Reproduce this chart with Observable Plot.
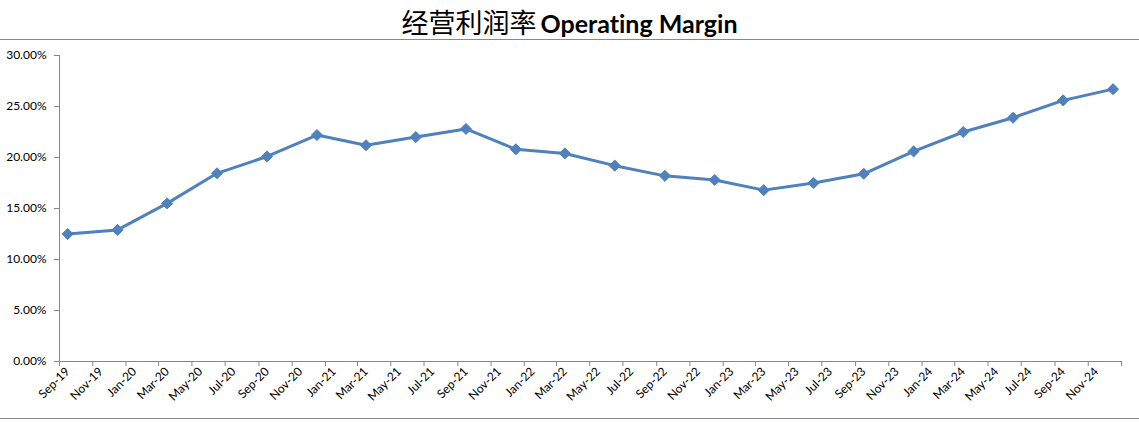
<!DOCTYPE html>
<html>
<head>
<meta charset="utf-8">
<script src="https://cdn.jsdelivr.net/npm/d3@7"></script>
<script src="https://cdn.jsdelivr.net/npm/@observablehq/plot@0.6"></script>
<style>
  html, body { margin: 0; padding: 0; background: #fff; }
  #wrap { width: 1139px; height: 429px; position: relative; overflow: hidden; }
  #title { height: 39px; border-bottom: 1px solid #888; text-align: center; line-height: 44px; white-space: nowrap; color: #000; font-variant-ligatures: none; }
  #title .zh { font-family: "Noto Sans CJK SC", sans-serif; font-size: 27px; font-weight: 400; }
  #title .en { font-family: "Lato", sans-serif; font-size: 25px; font-weight: 700; }
  #bottom { border-top: 1px solid #888; height: 10px; }
  svg { display: block; font-variant-ligatures: none; }
</style>
</head>
<body>
<div id="wrap">
  <div id="title"><span class="zh">经营利润率</span> <span class="en">Operating Margin</span></div>
  <div id="chart"></div>
  <div id="bottom"></div>
</div>
<script>
// Quarter-end months of each observation
const periods = ["2019-09","2019-12","2020-03","2020-06","2020-09","2020-12","2021-03","2021-06",
  "2021-09","2021-12","2022-03","2022-06","2022-09","2022-12","2023-03","2023-06",
  "2023-09","2023-12","2024-03","2024-06","2024-09","2024-12"];
// Operating margin, percent
const margins = [12.5, 12.9, 15.5, 18.45, 20.1, 22.2, 21.2, 22.0, 22.8, 20.8, 20.4, 19.2,
  18.2, 17.8, 16.8, 17.5, 18.4, 20.6, 22.5, 23.9, 25.6, 26.7];
// Category (x) tick labels, every two months
const xTickLabels = ["Sep-19","Nov-19","Jan-20","Mar-20","May-20","Jul-20","Sep-20","Nov-20",
  "Jan-21","Mar-21","May-21","Jul-21","Sep-21","Nov-21","Jan-22","Mar-22","May-22","Jul-22",
  "Sep-22","Nov-22","Jan-23","Mar-23","May-23","Jul-23","Sep-23","Nov-23","Jan-24","Mar-24",
  "May-24","Jul-24","Sep-24","Nov-24"];
const xAxisEnd = "Jan-25";
// Value (y) ticks, percent
const yTicks = [0, 5, 10, 15, 20, 25, 30];

const parseLabel = d3.utcParse("%b-%y");
const parsePeriod = d3.utcParse("%Y-%m");
const midMonth = (m) => new Date((+m + +d3.utcMonth.offset(m, 1)) / 2);

const data = periods.map((p, i) => ({date: midMonth(parsePeriod(p)), value: margins[i]}));
const boundaryTicks = [...xTickLabels, xAxisEnd].map(parseLabel);
const labelTicks = xTickLabels.map(l => midMonth(parseLabel(l)));
const labelByTime = new Map(xTickLabels.map((l, i) => [+labelTicks[i], l]));

const axisColor = "#868686";
const lineColor = "#4F81BD";

const chart = Plot.plot({
  width: 1139,
  height: 378,
  marginTop: 15,
  marginBottom: 57,
  marginLeft: 59,
  marginRight: 18,
  style: {fontFamily: "Lato, sans-serif", fontSize: "12px", color: "#000", background: "#fff"},
  x: {type: "utc", domain: [boundaryTicks[0], boundaryTicks[boundaryTicks.length - 1]]},
  y: {domain: [0, 30]},
  marks: [
    Plot.ruleY([0], {stroke: axisColor, strokeWidth: 1}),
    Plot.ruleX([boundaryTicks[0]], {stroke: axisColor, strokeWidth: 1}),
    Plot.axisY({ticks: yTicks, tickSize: 5, tickPadding: 8, stroke: axisColor, strokeOpacity: 1,
      tickFormat: d => d.toFixed(2) + "%", label: null, fill: "#000"}),
    Plot.axisX({ticks: boundaryTicks, tickSize: 5, stroke: axisColor, strokeOpacity: 1,
      tickFormat: () => "", label: null}),
    Plot.axisX({ticks: labelTicks, tickSize: 0, tickPadding: 8, tickRotate: -45,
      tickFormat: d => labelByTime.get(+d), label: null, fill: "#000"}),
    Plot.line(data, {x: "date", y: "value", stroke: lineColor, strokeWidth: 3}),
    Plot.dot(data, {x: "date", y: "value", symbol: "diamond2", r: 5, fill: lineColor, stroke: lineColor, strokeWidth: 1})
  ]
});
document.getElementById("chart").appendChild(chart);
</script>
</body>
</html>
